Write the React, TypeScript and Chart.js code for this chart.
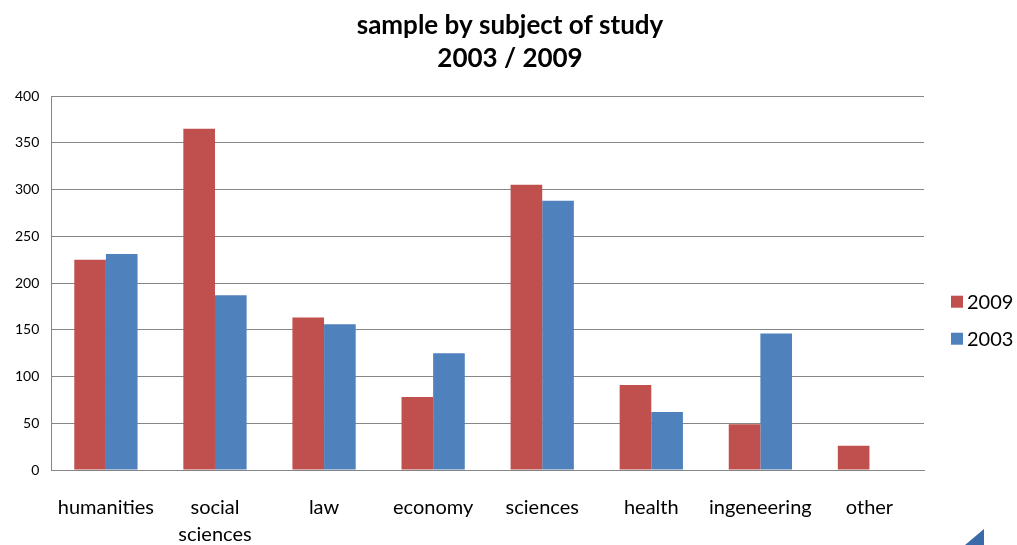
import React, { useEffect, useRef } from "react";
import { Chart, registerables } from "chart.js";

Chart.register(...registerables);

const categories: (string | string[])[] = [
  "humanities",
  ["social", "sciences"],
  "law",
  "economy",
  "sciences",
  "health",
  "ingeneering",
  "other",
];
const values2009 = [225, 365, 163, 78, 305, 91, 49, 26];
const values2003 = [231, 187, 156, 125, 288, 62, 146, 0];
const seriesNames = ["2009", "2003"];
const seriesColors = ["#C0504D", "#4F81BD"];
const titleLines = ["sample by subject of study", "2003 / 2009"];

const FONT = "Lato, 'Liberation Sans', sans-serif";

const customLegend = {
  id: "customLegend",
  afterDraw(chart: any) {
    const { ctx, chartArea } = chart;
    const x = chartArea.right + 27;
    const y0 = chartArea.top + chartArea.height * 0.55;
    ctx.save();
    ctx.font = `20px ${FONT}`;
    ctx.textBaseline = "middle";
    chart.data.datasets.forEach((ds: any, i: number) => {
      const y = y0 + i * 37;
      ctx.fillStyle = ds.backgroundColor;
      ctx.fillRect(x, y - 6, 12, 12);
      ctx.fillStyle = "#000";
      ctx.fillText(ds.label, x + 16, y + 1);
    });
    // decorative corner triangle
    const w = chart.width;
    const h = chart.height;
    ctx.fillStyle = "#3A6AA8";
    ctx.beginPath();
    ctx.moveTo(w - 33, h);
    ctx.lineTo(w - 52, h);
    ctx.lineTo(w - 33, h - 16);
    ctx.closePath();
    ctx.fill();
    ctx.restore();
  },
};

export default function App() {
  const ref = useRef<HTMLCanvasElement>(null);
  useEffect(() => {
    document.body.style.margin = "0";
    const chart = new Chart(ref.current!, {
      type: "bar",
      data: {
        labels: categories,
        datasets: [
          { label: seriesNames[0], data: values2009, backgroundColor: seriesColors[0] },
          { label: seriesNames[1], data: values2003, backgroundColor: seriesColors[1] },
        ],
      },
      options: {
        animation: false,
        responsive: false,
        layout: { padding: { left: 3, right: 0, top: 3, bottom: 0 } },
        datasets: { bar: { categoryPercentage: 0.58, barPercentage: 1 } },
        plugins: {
          legend: { display: false },
          tooltip: { enabled: false },
          title: {
            display: true,
            text: titleLines,
            color: "#000",
            font: { family: FONT, size: 26, weight: "bold", lineHeight: 1.27 },
            padding: { top: 6, bottom: 21 },
          },
        },
        scales: {
          x: {
            grid: { display: false, drawTicks: false },
            border: { color: "#868686", width: 1 },
            ticks: {
              color: "#000",
              font: { family: FONT, size: 20, lineHeight: 1.35 },
              padding: 24,
              maxRotation: 0,
              autoSkip: false,
            },
            afterFit: (s: any) => {
              s.height = 75;
            },
          },
          y: {
            min: 0,
            max: 400,
            ticks: {
              stepSize: 50,
              color: "#000",
              font: { family: FONT, size: 14 },
              padding: 12,
            },
            grid: { color: "#868686", drawTicks: false },
            border: { color: "#868686", width: 1 },
          },
          spacer: {
            type: "linear",
            position: "right",
            display: true,
            grid: { display: false, drawTicks: false },
            border: { display: false },
            ticks: { display: false },
            afterFit: (s: any) => {
              s.width = 93;
            },
          },
        },
      },
      plugins: [customLegend],
    });
    return () => chart.destroy();
  }, []);
  return (
    <div style={{ width: 1017, height: 545, background: "#fff" }}>
      <canvas ref={ref} width={1017} height={545} />
    </div>
  );
}
